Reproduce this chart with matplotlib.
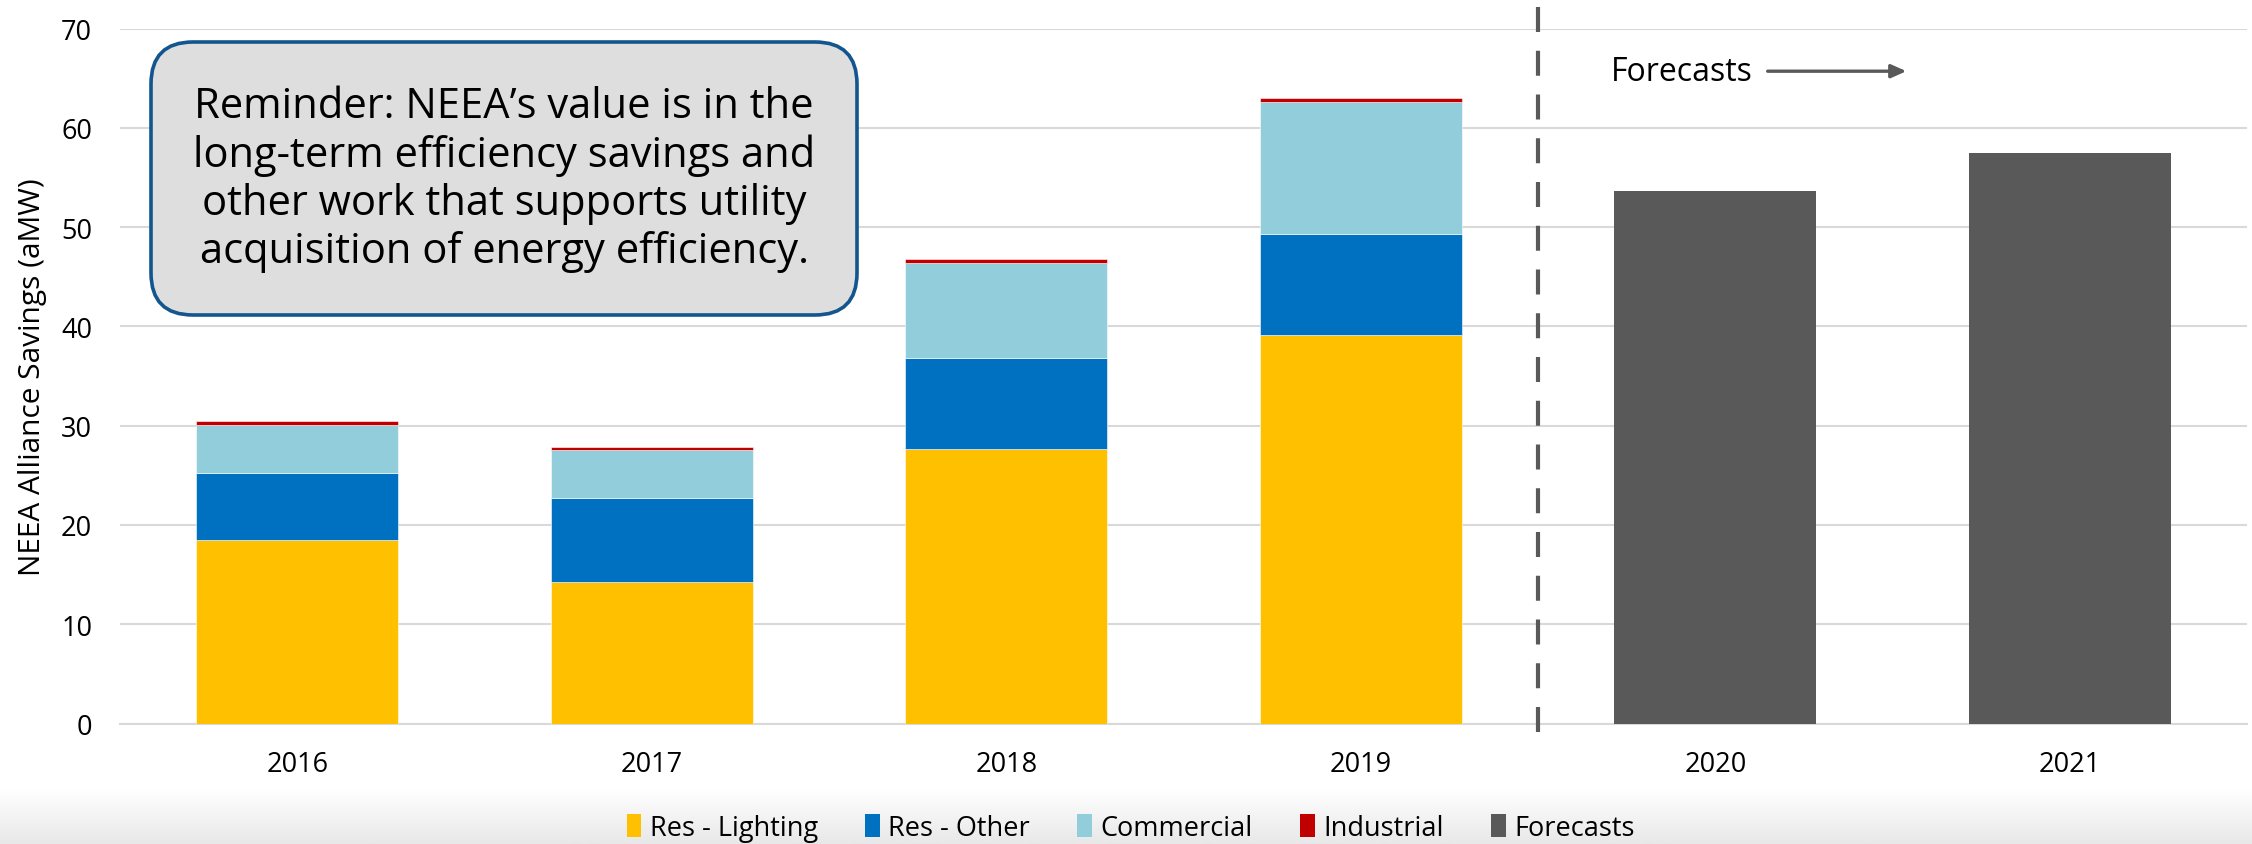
import numpy as np
import matplotlib
matplotlib.use('Agg')
import matplotlib.pyplot as plt
from matplotlib.patches import FancyBboxPatch, Patch

years = ['2016', '2017', '2018', '2019', '2020', '2021']
res_lighting = [18.5, 14.3, 27.7, 39.1]
res_other = [6.7, 8.4, 9.1, 10.2]
commercial = [4.9, 4.85, 9.6, 13.3]
industrial = [0.35, 0.3, 0.4, 0.4]
forecasts = [53.6, 57.5]

names = ['Res - Lighting', 'Res - Other', 'Commercial', 'Industrial', 'Forecasts']
colors = ['#FFC000', '#0070C0', '#92CDDC', '#C00000', '#595959']
reminder = ("Reminder: NEEA\u2019s value is in the\n"
            "long-term efficiency savings and\n"
            "other work that supports utility\n"
            "acquisition of energy efficiency.")

plt.rcParams['font.family'] = ['Open Sans', 'DejaVu Sans']

fig = plt.figure(figsize=(22.52, 8.45), dpi=100)
fig.patch.set_facecolor('white')

# grey gradient band at the bottom
bg = fig.add_axes([0, 0, 1, 55/845], zorder=-5)
grad = np.linspace(1.0, 0.0, 50).reshape(-1, 1)
bg.imshow(grad, aspect='auto', cmap=matplotlib.colors.LinearSegmentedColormap.from_list('g', ['#E8E8E8', '#FFFFFF']),
          extent=[0, 1, 0, 1], vmin=0, vmax=1)
bg.axis('off')

ax = fig.add_axes([120/2252, (845-724.6)/845, 2127/2252, 695.1/845])
ax.set_facecolor('white')

x = np.arange(len(years))
hx = x[:4]
w = 0.57
bottom = np.zeros(4)
for vals, c in zip([res_lighting, res_other, commercial, industrial], colors[:4]):
    ax.bar(hx, vals, w, bottom=bottom, color=c, edgecolor='white', linewidth=0.4, zorder=3)
    bottom += np.array(vals)
ax.bar(x[4:], forecasts, w, color=colors[4], zorder=3)

ax.set_xlim(-0.5, 5.5)
ax.set_ylim(0, 70)
ax.set_yticks(range(0, 71, 10))
ax.set_xticks(x)
ax.set_xticklabels(years)
ax.yaxis.grid(True, color='#D9D9D9', linewidth=1.5, zorder=0)
ax.set_axisbelow(True)
for s in ['top', 'right', 'left']:
    ax.spines[s].set_visible(False)
ax.spines['bottom'].set_color('#D9D9D9')
ax.spines['bottom'].set_linewidth(1.5)
ax.tick_params(axis='both', length=0, labelsize=19.5, colors='black')
ax.tick_params(axis='y', pad=20)
ax.tick_params(axis='x', pad=19)
ax.set_ylabel('NEEA Alliance Savings (aMW)', fontsize=21.5, labelpad=10)

# divider between actuals and forecasts
ax.plot([3.5, 3.5], [-0.012, 1.032], transform=ax.get_xaxis_transform(), color='#595959',
        linewidth=3, dashes=(6, 4.5), clip_on=False, zorder=4)

ax.text(3.706, 65.7, 'Forecasts', fontsize=23, va='center', ha='left')
ax.annotate('', xy=(4.547, 65.7), xytext=(4.14, 65.7),
            arrowprops=dict(arrowstyle='-|>,head_length=0.9,head_width=0.4', color='#595959', lw=2.4))

box = FancyBboxPatch((1.51, 5.29), 7.06, 2.73, boxstyle='round,pad=0,rounding_size=0.42',
                     transform=fig.dpi_scale_trans, facecolor='#DEDEDE', edgecolor='#13558E',
                     linewidth=2.6, zorder=10)
fig.patches.append(box)
fig.text(5.04/22.52, 6.655/8.45, reminder, fontsize=30, ha='center', va='center',
         linespacing=1.2, zorder=11)

handles = [Patch(facecolor=c) for c in colors]
fig.legend(handles, names, loc='center', bbox_to_anchor=(0.502, 16/845), ncol=5, frameon=False,
           prop={'size': 19.5}, handlelength=0.55, handleheight=0.9,
           handletextpad=0.3, columnspacing=1.75)

fig.savefig('out.png', dpi=100)
